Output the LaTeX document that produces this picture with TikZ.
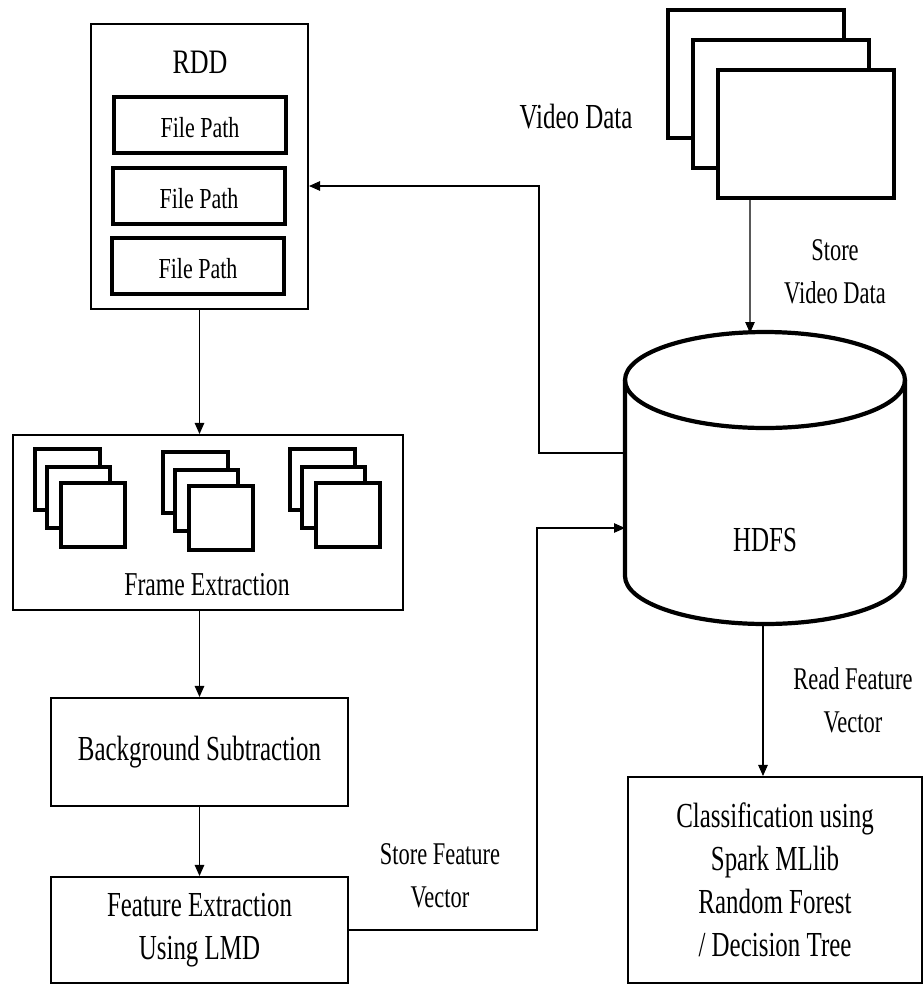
\documentclass[tikz,border=0pt]{standalone}
\usepackage{fontspec}
\setmainfont{Liberation Serif}[FakeStretch=0.71]
\newfontfamily\pathfont{Liberation Serif}[FakeStretch=0.76]
\usetikzlibrary{arrows.meta}
\tikzset{
    box/.style={draw, line width=1.2pt, fill=white, inner sep=0pt, align=center, font=\fontsize{20}{24.5}\selectfont},
    pathbox/.style={draw, line width=2.1pt, fill=white, inner sep=0pt, minimum width=3.44cm, minimum height=1.12cm, text height=0.5cm, text depth=0pt, font=\pathfont\fontsize{16.5}{19}\selectfont},
    frame/.style={draw, line width=2.1pt, fill=white},
    vidbox/.style={draw, line width=2.1pt, fill=white, minimum width=3.52cm, minimum height=2.56cm},
    cyl/.style={line width=2.4pt},
    link/.style={line width=0.6pt},
    arr/.style={link, -{Triangle[length=0.22cm, width=0.19cm]}},
    note/.style={align=center, font=\fontsize{18}{24.5}\selectfont}
}
\begin{document}
\begin{tikzpicture}[x=0.02cm, y=0.02cm]
        \useasboundingbox (0,0) rectangle (924,-985);

        \node [box, minimum width=4.34cm, minimum height=5.7cm] (rdd) at (199.5,-166.5) {};
        \node [font=\pathfont\fontsize{19.5}{22}\selectfont] (rddlabel) at (200,-62) {RDD};
        \node [pathbox] (path1) at (200,-125) {File Path};
        \node [pathbox] (path2) at (199,-196) {File Path};
        \node [pathbox] (path3) at (198,-266) {File Path};

        \node [vidbox] (vid1) at (756,-74) {};
        \node [vidbox] (vid2) at (781,-104) {};
        \node [vidbox] (vid3) at (806,-134) {};
        \node [note, font=\fontsize{20}{24}\selectfont] (vidlabel) at (576,-117) {Video Data};
        \node [note] (storevid) at (835,-272) {Store\\Video Data};

        \draw [cyl, fill=white] (625,-380) -- (625,-576) arc [start angle=180, end angle=360, x radius=2.8cm, y radius=0.96cm] -- (905,-380);
        \draw [cyl] (765,-380) ellipse [x radius=2.8cm, y radius=0.96cm];
        \node [font=\fontsize{20}{24}\selectfont] (hdfs) at (765,-540) {HDFS};
        \coordinate (cyltop) at (750,-333);
        \coordinate (cylbot) at (763,-624);
        \coordinate (cylout) at (625,-453);
        \coordinate (cylin) at (625,-528);

        \node [box, minimum width=7.8cm, minimum height=3.5cm] (fr) at (208,-522.5) {};
        \foreach \gx/\gy in {35/449, 163/452, 290/449} {
            \draw [frame] (\gx,-\gy) rectangle +(65,-61);
            \draw [frame] (\gx+12,-\gy-18) rectangle +(63,-61);
            \draw [frame] (\gx+26,-\gy-34) rectangle +(64,-64);
        }
        \node [font=\fontsize{19}{22}\selectfont] (frlabel) at (207,-585) {Frame Extraction};

        \node [box, minimum width=5.94cm, minimum height=2.16cm] (bg) at (199.5,-752) {Background Subtraction};
        \node [box, minimum width=5.94cm, minimum height=2.12cm] (fex) at (199.5,-930) {Feature Extraction\\Using LMD};
        \node [note] (storefeat) at (440,-876) {Store Feature\\Vector};

        \node [box, minimum width=5.88cm, minimum height=4.12cm] (cls) at (775,-880) {Classification using\\Spark MLlib\\Random Forest\\/ Decision Tree};
        \node [note] (readfeat) at (853,-700) {Read Feature\\Vector};

        \draw [arr] ([xshift=-1.12cm]vid3.south) -- (cyltop);
        \draw [arr] (cylout) -- (539,-453) |- ([yshift=-0.39cm]rdd.east);
        \draw [arr] (rdd.south) -- (rdd.south |- fr.north);
        \draw [arr] (bg.north |- fr.south) -- (bg.north);
        \draw [arr] (bg.south) -- (fex.north);
        \draw [arr] (fex.east) -- (537,-930) |- (cylin);
        \draw [arr] (cylbot) -- (cylbot |- cls.north);
\end{tikzpicture}
\end{document}
